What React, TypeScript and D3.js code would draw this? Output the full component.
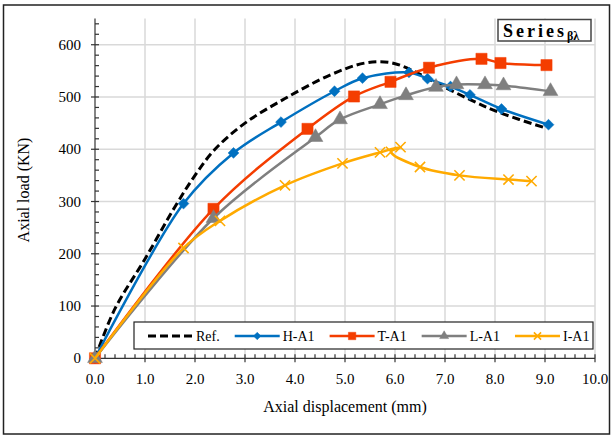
import React, { useEffect, useRef } from "react";
import * as d3 from "d3";

// values (displacement in mm, load in kN)
const refDisp = [0, 0.4, 1.0, 1.6, 2.0, 2.4, 3.0, 3.8, 4.7, 5.4, 5.9, 6.3, 6.7, 7.5, 8.1, 9.0];
const refLoad = [0, 95, 190, 290, 350, 400, 450, 497, 542, 565, 566, 553, 533, 495, 470, 441];

const hDisp = [0, 1.77, 2.77, 3.72, 4.79, 5.35, 6.28, 6.65, 7.11, 7.5, 8.13, 9.07];
const hLoad = [0, 296, 393, 452, 511, 536, 547, 535, 520, 504, 477, 447];

const tDisp = [0, 2.37, 4.25, 5.18, 5.91, 6.68, 7.73, 8.11, 9.03];
const tLoad = [0, 286, 439, 501, 529, 556, 573, 565, 561];

const lDisp = [0, 2.37, 4.41, 4.9, 5.7, 6.22, 6.82, 7.23, 7.8, 8.17, 9.11];
const lLoad = [0, 268, 423, 457, 486, 503, 519, 524, 524, 522, 511];

const iDisp = [0, 1.77, 2.5, 3.8, 4.95, 5.7, 6.11, 5.92, 6.5, 7.29, 8.27, 8.73];
const iLoad = [0, 211, 263, 331, 373, 394, 404, 395, 366, 350, 342, 339];

const xTicks = [0, 1, 2, 3, 4, 5, 6, 7, 8, 9, 10];
const yTicks = [0, 100, 200, 300, 400, 500, 600];

type Pt = { x: number; y: number };
const zip = (xs: number[], ys: number[]): Pt[] => xs.map((x, i) => ({ x, y: ys[i] }));

const series = [
  { name: "Ref.", pts: zip(refDisp, refLoad), color: "#000000", dash: "8,4", marker: null as any, msize: 0, lsize: 0, width: 3 },
  { name: "H-A1", pts: zip(hDisp, hLoad), color: "#0070C0", dash: null, marker: d3.symbolDiamond2, msize: 75, lsize: 35, width: 2.5 },
  { name: "T-A1", pts: zip(tDisp, tLoad), color: "#F43D00", dash: null, marker: d3.symbolSquare, msize: 125, lsize: 55, width: 2.5 },
  { name: "L-A1", pts: zip(lDisp, lLoad), color: "#7F7F7F", dash: null, marker: d3.symbolTriangle, msize: 95, lsize: 35, width: 2.5 },
  { name: "I-A1", pts: zip(iDisp, iLoad), color: "#FFAA00", dash: null, marker: d3.symbolX, msize: 70, lsize: 35, width: 2.5 },
];

const W = 614;
const H = 437;
const font = "'Liberation Serif', 'Times New Roman', serif";

const App = () => {
  const svgRef = useRef<SVGSVGElement>(null);

  useEffect(() => {
    const svg = d3.select(svgRef.current);
    svg.selectAll("*").remove();

    const x = d3.scaleLinear().domain([0, 10]).range([95, 595]);
    const y = d3.scaleLinear().domain([0, 650]).range([358.3, 18.6]);

    svg.append("rect").attr("width", W).attr("height", H).attr("fill", "white");
    svg
      .append("rect")
      .attr("x", 3.5)
      .attr("y", 5)
      .attr("width", 606)
      .attr("height", 429)
      .attr("fill", "none")
      .attr("stroke", "#222")
      .attr("stroke-width", 1.5);

    // gridlines
    const grid = svg.append("g").attr("stroke", "#D9D9D9").attr("stroke-width", 1.5);
    grid
      .selectAll(".vg")
      .data(xTicks.slice(1))
      .join("line")
      .attr("x1", (d) => x(d))
      .attr("x2", (d) => x(d))
      .attr("y1", y(0))
      .attr("y2", y(650));
    grid
      .selectAll(".hg")
      .data(yTicks.slice(1))
      .join("line")
      .attr("x1", x(0))
      .attr("x2", x(10))
      .attr("y1", (d) => y(d))
      .attr("y2", (d) => y(d));

    // axes
    const axisG = svg.append("g").attr("stroke", "#333").attr("stroke-width", 1.2);
    axisG.append("line").attr("x1", x(0)).attr("x2", x(0)).attr("y1", y(0)).attr("y2", y(650));
    axisG.append("line").attr("x1", x(0)).attr("x2", x(10)).attr("y1", y(0)).attr("y2", y(0));
    axisG
      .selectAll(".ymin")
      .data(d3.range(0, 651, 20))
      .join("line")
      .attr("x1", (d) => (d % 100 === 0 ? x(0) - 4 : x(0)))
      .attr("x2", x(0) + 4)
      .attr("y1", (d) => y(d))
      .attr("y2", (d) => y(d));
    axisG
      .selectAll(".xmin")
      .data(d3.range(0, 50.5, 1).map((d) => d / 5))
      .join("line")
      .attr("x1", (d) => x(d))
      .attr("x2", (d) => x(d))
      .attr("y1", y(0) - 4)
      .attr("y2", (d) => (Math.abs(d - Math.round(d)) < 1e-6 ? y(0) + 4 : y(0)));

    svg
      .append("g")
      .selectAll("text")
      .data(yTicks)
      .join("text")
      .attr("x", 81)
      .attr("y", (d) => y(d) + 5)
      .attr("text-anchor", "end")
      .style("font-family", font)
      .style("font-size", "15px")
      .text((d) => d);
    svg
      .append("g")
      .selectAll("text")
      .data(xTicks)
      .join("text")
      .attr("x", (d) => x(d))
      .attr("y", 384)
      .attr("text-anchor", "middle")
      .style("font-family", font)
      .style("font-size", "15px")
      .text((d) => d3.format(".1f")(d));

    svg
      .append("text")
      .attr("x", x(5))
      .attr("y", 412)
      .attr("text-anchor", "middle")
      .style("font-family", font)
      .style("font-size", "16px")
      .text("Axial displacement (mm)");
    svg
      .append("text")
      .attr("transform", `translate(29,190) rotate(-90)`)
      .attr("text-anchor", "middle")
      .style("font-family", font)
      .style("font-size", "16px")
      .text("Axial load (KN)");

    // curves
    const line = d3
      .line<Pt>()
      .curve(d3.curveCatmullRom.alpha(0.5))
      .x((d) => x(d.x))
      .y((d) => y(d.y));

    const drawMarker = (g: any, sym: any, size: number, color: string) => {
      const path = d3.symbol().type(sym).size(size)() as string;
      const isStroke = sym === d3.symbolX;
      g.attr("d", path)
        .attr("fill", isStroke ? "none" : color)
        .attr("stroke", color)
        .attr("stroke-width", isStroke ? 1.6 : 0.5);
    };

    series.forEach((s) => {
      const g = svg.append("g");
      g.append("path")
        .attr("d", line(s.pts))
        .attr("fill", "none")
        .attr("stroke", s.color)
        .attr("stroke-width", s.width)
        .attr("stroke-dasharray", s.dash);
      if (s.marker) {
        g.selectAll(".m")
          .data(s.pts)
          .join("path")
          .attr("transform", (d) => `translate(${x(d.x)},${y(d.y)})`)
          .call((sel: any) => drawMarker(sel, s.marker, s.msize, s.color));
      }
    });

    // legend
    const lg = svg.append("g");
    lg.append("rect")
      .attr("x", 134)
      .attr("y", 322)
      .attr("width", 459)
      .attr("height", 27)
      .attr("fill", "white")
      .attr("stroke", "#222")
      .attr("stroke-width", 1.2);
    let cursor = 148;
    const ly = 336;
    series.forEach((s) => {
      const x0 = cursor;
      lg.append("line")
        .attr("x1", x0)
        .attr("x2", x0 + 45)
        .attr("y1", ly)
        .attr("y2", ly)
        .attr("stroke", s.color)
        .attr("stroke-width", s.width)
        .attr("stroke-dasharray", s.dash);
      if (s.marker) {
        lg.append("path")
          .attr("transform", `translate(${x0 + 22.5},${ly})`)
          .call((sel: any) => drawMarker(sel, s.marker, s.lsize, s.color));
      }
      const t = lg
        .append("text")
        .attr("x", x0 + 48)
        .attr("y", ly + 5)
        .style("font-family", font)
        .style("font-size", "14px")
        .text(s.name);
      const tw = (t.node() as SVGTextElement).getComputedTextLength();
      cursor = x0 + 48 + tw + 15;
    });

    // series tag
    svg
      .append("rect")
      .attr("x", 498)
      .attr("y", 19.5)
      .attr("width", 93)
      .attr("height", 21.5)
      .attr("fill", "white")
      .attr("stroke", "#444")
      .attr("stroke-width", 1.5);
    const tag = svg
      .append("text")
      .attr("x", 503)
      .attr("y", 37)
      .style("font-family", font)
      .style("font-weight", "bold");
    tag.append("tspan").style("font-size", "18px").style("letter-spacing", "3px").text("Series");
    tag.append("tspan").attr("dy", 3).style("font-size", "12px").text("βλ");
  }, []);

  return (
    <svg
      ref={svgRef}
      width={W}
      height={H}
      style={{ position: "absolute", left: 0, top: 0 }}
    />
  );
};

export default App;
